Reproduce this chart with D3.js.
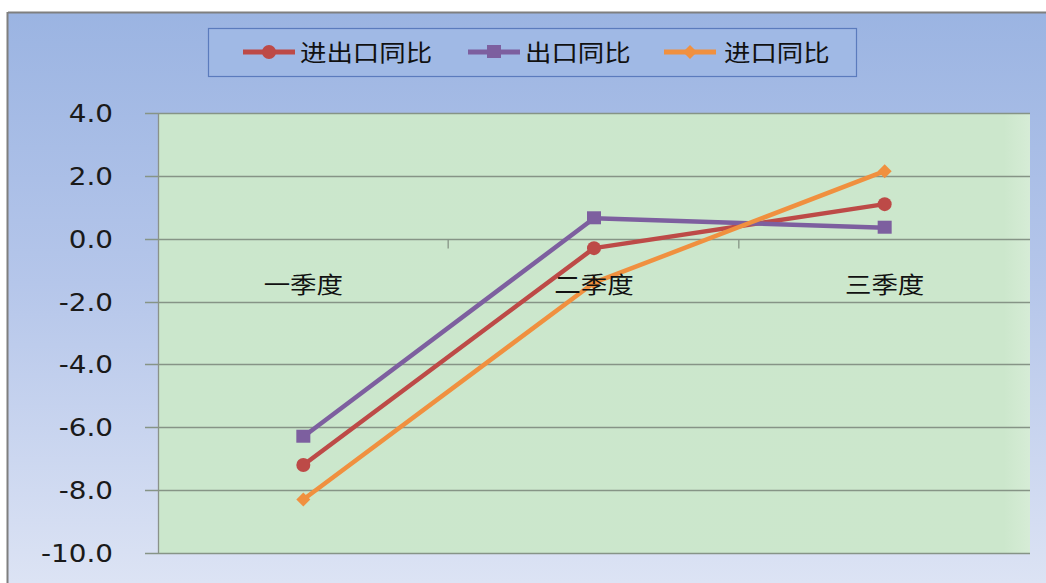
<!DOCTYPE html>
<html><head><meta charset="utf-8">
<script src="https://cdn.jsdelivr.net/npm/d3@7"></script>
<style>body{margin:0;background:#fff}svg{display:block}</style>
</head><body>
<svg id="c" width="1046" height="583"></svg>
<script>
const categories = ["一季度", "二季度", "三季度"];
const seriesNames = ["进出口同比", "出口同比", "进口同比"];
const totalYoY = [-7.2, -0.3, 1.1];
const exportYoY = [-6.3, 0.65, 0.35];
const importYoY = [-8.3, -1.4, 2.15];
const yTicks = [4, 2, 0, -2, -4, -6, -8, -10];

const series = [
  {name: seriesNames[0], values: totalYoY, color: "#bd4a47", marker: "circle"},
  {name: seriesNames[1], values: exportYoY, color: "#7d5f9f", marker: "square"},
  {name: seriesNames[2], values: importYoY, color: "#f0903f", marker: "diamond"}
];

const svg = d3.select("#c");
const defs = svg.append("defs");
const bg = defs.append("linearGradient").attr("id","bg").attr("x1",0).attr("y1",0).attr("x2",0).attr("y2",1);
bg.append("stop").attr("offset","0%").attr("stop-color","#9bb4e2");
bg.append("stop").attr("offset","45%").attr("stop-color","#b5c6ea");
bg.append("stop").attr("offset","100%").attr("stop-color","#e0e6f5");
const pg = defs.append("linearGradient").attr("id","pg").attr("x1",0).attr("y1",0).attr("x2",1).attr("y2",0);
pg.append("stop").attr("offset","0%").attr("stop-color","#cbe7cc");
pg.append("stop").attr("offset","97%").attr("stop-color","#cce7cc");
pg.append("stop").attr("offset","100%").attr("stop-color","#d6ecd6");

// outer frame
svg.append("rect").attr("x",8).attr("y",13).attr("width",1060).attr("height",600).attr("fill","url(#bg)");
svg.append("line").attr("x1",8).attr("x2",1046).attr("y1",12.5).attr("y2",12.5).attr("stroke","#7f7f7f").attr("stroke-width",2);
svg.append("line").attr("x1",7.5).attr("x2",7.5).attr("y1",12).attr("y2",583).attr("stroke","#7f7f7f").attr("stroke-width",2);

const L = 158, R = 1030, T = 113, B = 553;
const x = d3.scaleBand().domain(categories).range([L, R]);
const y = d3.scaleLinear().domain([-10, 4]).range([B, T]);

svg.append("rect").attr("x",L).attr("y",T).attr("width",R-L).attr("height",B-T).attr("fill","url(#pg)");

// gridlines
svg.append("g").selectAll("line").data(yTicks).join("line")
  .attr("x1", L-13).attr("x2", R).attr("y1", d=>Math.round(y(d))+0.5).attr("y2", d=>Math.round(y(d))+0.5)
  .attr("stroke","#869486").attr("stroke-width",1.3);
// y axis line
svg.append("line").attr("x1",L+0.5).attr("x2",L+0.5).attr("y1",T).attr("y2",B).attr("stroke","#8a928a").attr("stroke-width",1.3);

// y labels
svg.append("g").selectAll("text").data(yTicks).join("text")
  .attr("transform", d=>`translate(113,${y(d)+9}) scale(1.16,1)`)
  .attr("text-anchor","end")
  .attr("font-family","DejaVu Sans, sans-serif").attr("font-size",24).attr("fill","#1a1a1a")
  .text(d=>d3.format(".1f")(d).replace("−","-"));

// category ticks on zero line
const y0 = Math.round(y(0))+0.5;
svg.append("g").selectAll("line").data(categories.slice(1)).join("line")
  .attr("x1", d=>x(d)-0.5).attr("x2", d=>x(d)-0.5).attr("y1", y0).attr("y2", y0+9)
  .attr("stroke","#869486").attr("stroke-width",1.3);

// lines
const line = d3.line().x((d,i)=>x(categories[i])+x.bandwidth()/2).y(d=>y(d));
series.forEach(s=>{
  svg.append("path").datum(s.values).attr("d",line).attr("fill","none")
    .attr("stroke",s.color).attr("stroke-width",4.5).attr("stroke-linejoin","round");
});
function drawMarker(g, type, cx, cy, color){
  if(type==="circle") g.append("circle").attr("cx",cx).attr("cy",cy).attr("r",7).attr("fill",color);
  else if(type==="square") g.append("rect").attr("x",cx-7).attr("y",cy-7).attr("width",14).attr("height",13).attr("fill",color);
  else g.append("path").attr("d",`M${cx},${cy-7}L${cx+7},${cy}L${cx},${cy+7}L${cx-7},${cy}Z`).attr("fill",color);
}
series.forEach(s=>{
  const g = svg.append("g");
  s.values.forEach((v,i)=>drawMarker(g, s.marker, x(categories[i])+x.bandwidth()/2, y(v), s.color));
});

// category labels (drawn over lines)
svg.append("g").selectAll("text").data(categories).join("text")
  .attr("transform", d=>`translate(${x(d)+x.bandwidth()/2},${y(0)+54}) scale(1.15,1)`)
  .attr("text-anchor","middle")
  .attr("font-family","Noto Sans CJK SC, sans-serif").attr("font-size",23).attr("fill","#111")
  .text(d=>d);

// legend
svg.append("rect").attr("x",208.5).attr("y",28.5).attr("width",648).attr("height",48)
  .attr("fill","#a0b9e5").attr("stroke","#5b7bbd").attr("stroke-width",1.2);
const legX = [243, 468, 664];
series.forEach((s,i)=>{
  const g = svg.append("g").attr("transform",`translate(${legX[i]},52)`);
  g.append("line").attr("x1",0).attr("x2",52).attr("y1",0).attr("y2",0).attr("stroke",s.color).attr("stroke-width",5);
  drawMarker(g, s.marker, 26, 0, s.color);
  g.append("text").attr("transform",`translate(${i===2?60:57},9) scale(1.15,1)`)
    .attr("font-family","Noto Sans CJK SC, sans-serif").attr("font-size",23).attr("fill","#111").text(s.name);
});
</script>
</body></html>
